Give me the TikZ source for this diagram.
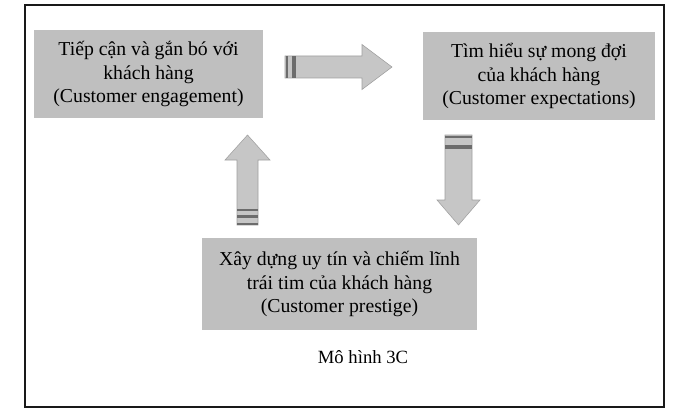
\documentclass[tikz,border=0pt]{standalone}
\usepackage{fontspec}
\setmainfont{Liberation Serif}
\usetikzlibrary{positioning}

\tikzset{
  box/.style={fill=gray!50, align=center, inner sep=0pt,
    font=\fontsize{14.8}{17.6}\selectfont},
  blockarrow/.style={fill=gray!45, draw=gray!75, line width=0.4pt},
  stripe/.style={fill=gray!85!black}
}

\begin{document}
\begin{tikzpicture}[x=0.75pt, y=-0.75pt]
      \useasboundingbox (0,0) rectangle (674,410);
      % frame
      \draw[line width=1.2pt, gray!20!black] (25,5) rectangle (664,407);

      % the three boxes
      \node[box, minimum width=171.75pt, minimum height=66pt] (engage) at (148.5,74)
        {Tiếp cận và gắn bó với\\khách hàng\\(Customer engagement)};
      \node[box, minimum width=174pt, minimum height=66pt] (expect) at (539,76)
        {Tìm hiểu sự mong đợi\\của khách hàng\\(Customer expectations)};
      \node[box, minimum width=206pt, minimum height=69pt] (prestige) at (339.5,284)
        {Xây dựng uy tín và chiếm lĩnh\\trái tim của khách hàng\\(Customer prestige)};

      % right arrow
      \filldraw[blockarrow] (285,56) -- (362,56) -- (362,44.5) -- (392,67)
        -- (362,89.5) -- (362,78) -- (285,78) -- cycle;
      \fill[stripe] (286,56) rectangle (288,78);
      \fill[stripe] (292,56) rectangle (296,78);

      % up arrow
      \filldraw[blockarrow] (237,225) -- (237,160) -- (225,160) -- (247.5,135)
        -- (270,160) -- (258,160) -- (258,225) -- cycle;
      \fill[stripe] (237,209) rectangle (258,211);
      \fill[stripe] (237,215) rectangle (258,218);
      \fill[stripe] (237,222.5) rectangle (258,224.5);

      % down arrow
      \filldraw[blockarrow] (445,135) -- (445,200) -- (437,200) -- (458.5,225)
        -- (480,200) -- (472,200) -- (472,135) -- cycle;
      \fill[stripe] (445,136) rectangle (472,138);
      \fill[stripe] (445,145) rectangle (472,149);

      \node[font=\fontsize{14}{16}\selectfont] (title) at (363,357) {Mô hình 3C};
    \end{tikzpicture}
\end{document}
